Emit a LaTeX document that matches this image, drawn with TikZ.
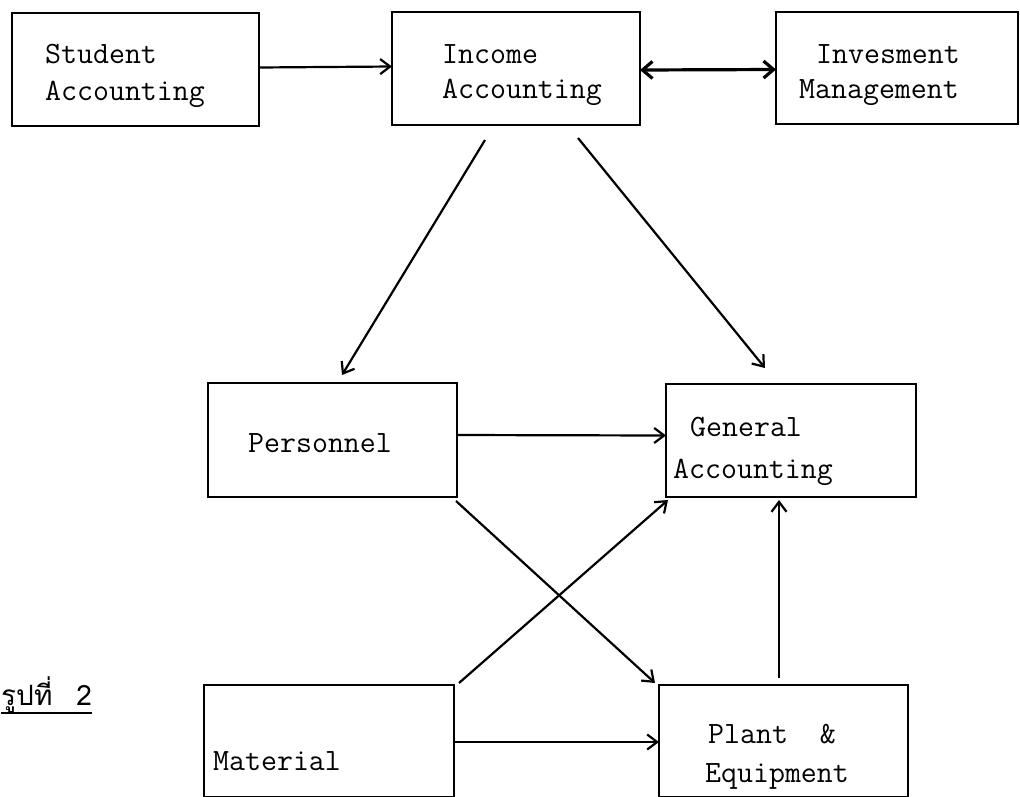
\documentclass[tikz,border=0pt]{standalone}
\usepackage{fontspec}
\usetikzlibrary{arrows.meta}
\newfontfamily\thaifont[Script=Thai]{Loma}
\begin{document}
\begin{tikzpicture}[x=1pt, y=-1pt,
  box/.style={draw, line width=2.3pt, inner sep=0pt, outer sep=0pt, rectangle},
  lbl/.style={anchor=base west, inner sep=0pt, font=\ttfamily\fontsize{31}{31}\selectfont},
  arr/.style={line width=2.2pt, -{Straight Barb[length=10pt, width=15pt]}},
  dbl/.style={line width=3.2pt, {Straight Barb[length=10pt, width=17pt]}-{Straight Barb[length=10pt, width=17pt]}}]
\useasboundingbox (0,0) rectangle (1020,796);

% boxes
\node[box, minimum width=247pt, minimum height=113pt] (stu) at (135.5,69.5) {};
\node[box, minimum width=248pt, minimum height=113pt] (inc) at (516,68.5) {};
\node[box, minimum width=242pt, minimum height=112pt] (inv) at (897,68) {};
\node[box, minimum width=249pt, minimum height=114pt] (per) at (332.5,440) {};
\node[box, minimum width=250pt, minimum height=113pt] (gen) at (791,440.5) {};
\node[box, minimum width=250pt, minimum height=112pt] (mat) at (329,741) {};
\node[box, minimum width=249pt, minimum height=112pt] (plt) at (783.5,741) {};

% labels
\node[lbl] (stu1) at (45,63) {Student};
\node[lbl] (stu2) at (45,100) {Accounting};
\node[lbl] (inc1) at (442,63) {Income};
\node[lbl] (inc2) at (442,98) {Accounting};
\node[lbl] (inv1) at (816,63) {Invesment};
\node[lbl] (inv2) at (799,98) {Management};
\node[lbl] (per1) at (248,452) {Personnel};
\node[lbl] (gen1) at (690,436) {General};
\node[lbl] (gen2) at (673,478) {Accounting};
\node[lbl] (mat1) at (213,770) {Material};
\node[lbl] (plt1) at (708,743) {Plant \ \&};
\node[lbl] (plt2) at (705,782) {Equipment};

% figure caption
\node[anchor=base west, inner sep=0pt, font=\thaifont\fontsize{28}{28}\selectfont] (cap) at (1,705) {รูปที่\hspace{24pt}2};
\draw[line width=2.4pt] ([yshift=-8pt]cap.base west) -- ([yshift=-8pt]cap.base east);

% connectors
\draw[arr] ([yshift=2pt]stu.east) -- ([yshift=2pt]inc.west);
\draw[dbl] ([yshift=-1.5pt]inc.east) -- ([yshift=-1.5pt]inv.west);
\draw[arr] ([xshift=-31pt, yshift=-15pt]inc.south) -- ([xshift=9.5pt, yshift=8pt]per.north);
\draw[arr] ([xshift=62pt, yshift=-13pt]inc.south) -- ([xshift=-26pt, yshift=16pt]gen.north);
\draw[arr] ([yshift=5pt]per.east) -- ([yshift=5pt]gen.west);
\draw[arr] ([xshift=-1pt, yshift=-4pt]per.south east) -- ([xshift=-4pt, yshift=2pt]plt.north west);
\draw[arr] ([xshift=5pt, yshift=2pt]mat.north east) -- ([xshift=2pt, yshift=-3pt]gen.south west);
\draw[arr] ([yshift=-1pt]mat.east) -- ([yshift=-1pt]plt.west);
\draw[arr] ([xshift=-4.5pt, yshift=7pt]plt.north) -- ([xshift=-12pt, yshift=-3pt]gen.south);
\end{tikzpicture}
\end{document}
